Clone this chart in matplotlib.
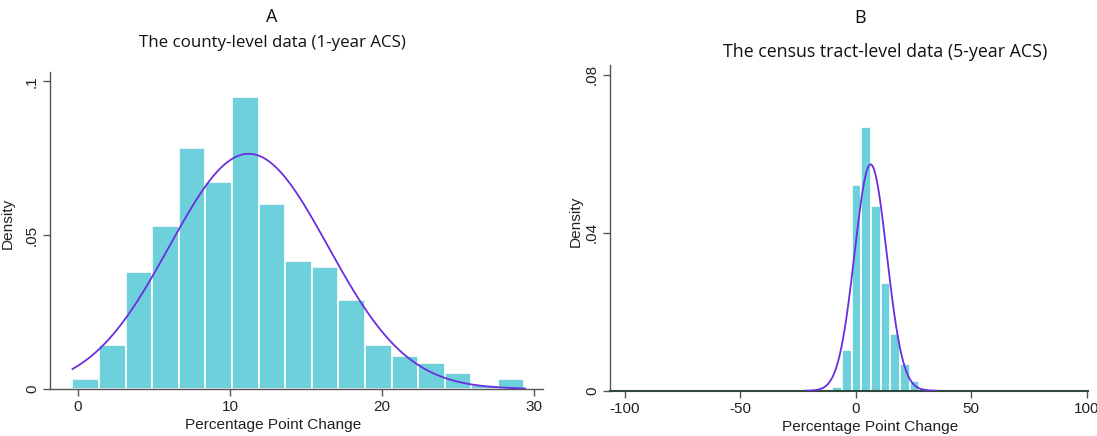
import numpy as np
import matplotlib.pyplot as plt

# Panel A: county-level histogram (density per bin)
county_start = -0.36
county_width = 1.749
county_density = [0.0031, 0.0143, 0.0380, 0.0529, 0.0784, 0.0674, 0.0950, 0.0601,
                  0.0417, 0.0398, 0.0289, 0.0143, 0.0107, 0.0086, 0.0051, 0.0013, 0.0031]
county_mean, county_sd = 11.23, 5.22

# Panel B: census tract-level histogram
tract_start = -10.1
tract_width = 4.18
tract_density = [0.0010, 0.0103, 0.0520, 0.0668, 0.0467, 0.0273, 0.0144, 0.0067, 0.0025, 0.0008]
tract_mean, tract_sd = 6.5, 6.96

bar_color = "#6dd0da"
curve_color = "#6a2ee0"
axis_color = "#555555"
label_font = "Liberation Sans"


def normal_pdf(x, mu, sd):
    return np.exp(-0.5 * ((x - mu) / sd) ** 2) / (sd * np.sqrt(2 * np.pi))


def draw_panel(ax, start, width, dens, mu, sd, curve_range, xticks, xticklabels,
               yticks, yticklabels, xlim, ylim, xlabel_x):
    edges = start + width * np.arange(len(dens))
    ax.bar(edges, dens, width=width, align="edge", color=bar_color,
           edgecolor="white", linewidth=1.2, zorder=2)
    xs = np.linspace(curve_range[0], curve_range[1], 400)
    ax.plot(xs, normal_pdf(xs, mu, sd), color=curve_color, lw=1.3, zorder=3)
    ax.set_xlim(*xlim)
    ax.set_ylim(*ylim)
    ax.set_xticks(xticks)
    ax.set_xticklabels(xticklabels, fontsize=11, family=label_font)
    ax.set_yticks(yticks)
    ax.set_yticklabels(yticklabels, fontsize=11, family=label_font,
                       rotation=90, va="center")
    for s in ["top", "right"]:
        ax.spines[s].set_visible(False)
    for s in ["left", "bottom"]:
        ax.spines[s].set_color(axis_color)
        ax.spines[s].set_linewidth(1.0)
    ax.tick_params(axis="both", colors=axis_color, labelcolor="#222222",
                   length=5, width=1.0, pad=3)
    ax.set_xlabel("Percentage Point Change", fontsize=11.1, family=label_font,
                  color="#222222")
    ax.set_ylabel("Density", fontsize=11.1, family=label_font, color="#222222")
    ax.xaxis.set_label_coords(xlabel_x, -0.09)


fig = plt.figure(figsize=(10.97, 4.36), dpi=100)

ax1 = fig.add_axes([50 / 1097, 1 - 389 / 436, 493 / 1097, 317 / 436])
draw_panel(ax1, county_start, county_width, county_density, county_mean, county_sd,
           (-0.36, 29.4), [0, 10, 20, 30], ["0", "10", "20", "30"],
           [0, 0.05, 0.1], ["0", ".05", ".1"], (-1.84, 30.59), (0, 0.103), 0.453)
ax1.yaxis.set_label_coords(-0.072, 0.522)

ax2 = fig.add_axes([610 / 1097, 1 - 390.7 / 436, 477.8 / 1097, 325.7 / 436])
draw_panel(ax2, tract_start, tract_width, tract_density, tract_mean, tract_sd,
           (-22, 35), [-100, -50, 0, 50, 100], ["-100", "-50", "0", "50", "100"],
           [0, 0.04, 0.08], ["0", ".04", ".08"], (-106.3, 100.5), (0, 0.0825), 0.544)
ax2.yaxis.set_label_coords(-0.056, 0.521)
ax2.spines["bottom"].set_color("#2f4a3a")
ax2.spines["bottom"].set_linewidth(1.5)

title_font = "Open Sans"
fig.text(272 / 1097, 1 - 17 / 436, "A", ha="center", va="center", fontsize=13,
         family=title_font, color="#111111")
fig.text(272 / 1097, 1 - 43 / 436, "The county-level data (1-year ACS)", ha="center",
         va="center", fontsize=12.2, family=title_font, color="#111111")
fig.text(860 / 1097, 1 - 18 / 436, "B", ha="center", va="center", fontsize=13,
         family=title_font, color="#111111")
fig.text(885 / 1097, 1 - 52 / 436, "The census tract-level data (5-year ACS)",
         ha="center", va="center", fontsize=12.8, family=title_font, color="#111111")

fig.savefig("out.png", dpi=100)
